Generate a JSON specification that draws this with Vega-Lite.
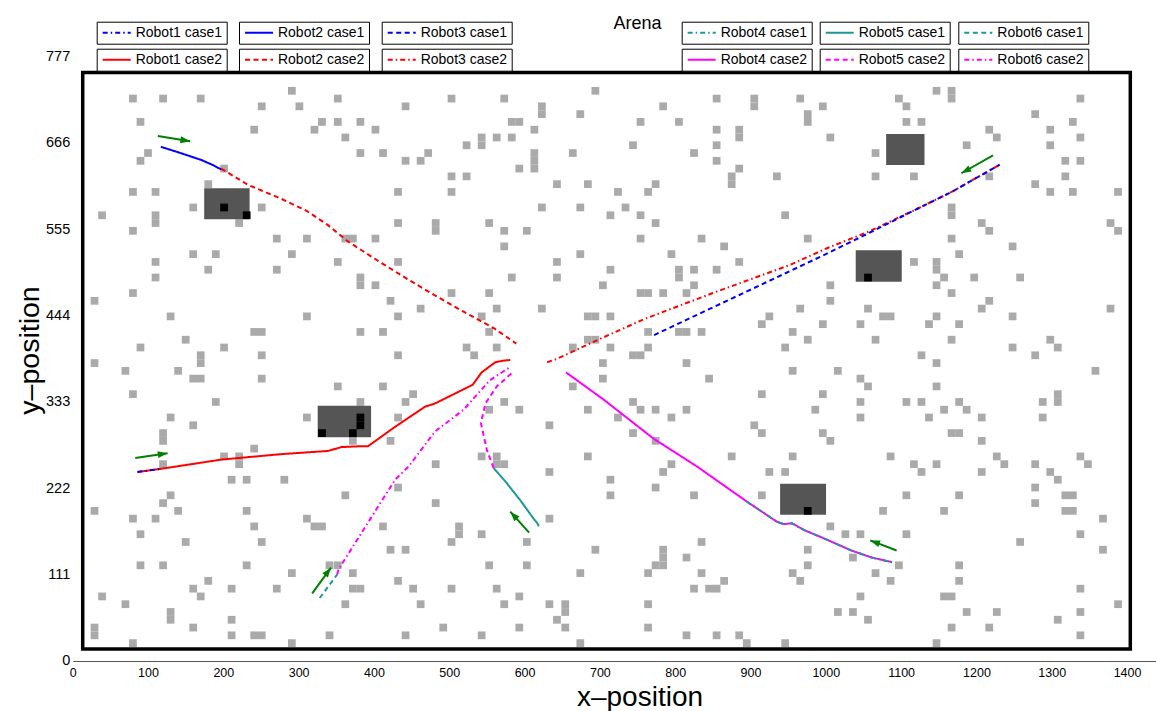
{
"$schema":"https://vega.github.io/schema/vega-lite/v6.json",
"width":1083,"height":620,
"autosize":{"type":"none"},
"padding":{"left":72.7,"top":41,"right":0,"bottom":50},
"background":"white",
"title":{"text":"Arena","fontSize":18,"font":"Liberation Sans","fontWeight":"normal","color":"black","anchor":"middle","frame":"group","dx":23.3,"offset":-25.5,"baseline":"alphabetic"},
"datasets":{
"arena":[{"x":13.3,"x2":1404.3,"y":15.4,"y2":756.5}],
"dark":[{"x":174.6,"x2":234.9,"y":567.8,"y2":607.6},{"x":325.3,"x2":396.2,"y":287.6,"y2":328.2},{"x":1080.1,"x2":1131,"y":637.6,"y2":677.5},{"x":1039.7,"x2":1100.8,"y":487.6,"y2":528},{"x":939.3,"x2":1000.3,"y":188,"y2":228}],
"black":[{"x":201,"y":583},{"x":231,"y":573},{"x":331,"y":293},{"x":372,"y":293},{"x":382,"y":313},{"x":382,"y":303},{"x":1056,"y":493},{"x":976,"y":193}],
"cells":[
{"x":291,"y":733},{"x":80,"y":723},{"x":120,"y":723},{"x":170,"y":723},{"x":352,"y":723},{"x":251,"y":713},{"x":301,"y":713},{"x":442,"y":713},{"x":90,"y":693},{"x":331,"y":693},{"x":352,"y":693},{"x":382,"y":693},{"x":241,"y":683},{"x":321,"y":683},{"x":402,"y":683},{"x":362,"y":673},{"x":100,"y":653},{"x":382,"y":653},{"x":412,"y":653},{"x":472,"y":653},{"x":90,"y":643},{"x":442,"y":643},{"x":462,"y":643},{"x":201,"y":633},{"x":180,"y":613},{"x":80,"y":603},{"x":110,"y":603},{"x":432,"y":603},{"x":160,"y":583},{"x":251,"y":583},{"x":39,"y":573},{"x":110,"y":573},{"x":110,"y":563},{"x":221,"y":563},{"x":432,"y":563},{"x":80,"y":553},{"x":271,"y":543},{"x":311,"y":543},{"x":362,"y":543},{"x":372,"y":543},{"x":402,"y":543},{"x":160,"y":523},{"x":190,"y":523},{"x":291,"y":523},{"x":110,"y":513},{"x":352,"y":513},{"x":432,"y":513},{"x":180,"y":503},{"x":271,"y":503},{"x":110,"y":493},{"x":382,"y":493},{"x":382,"y":483},{"x":402,"y":483},{"x":80,"y":473},{"x":29,"y":463},{"x":422,"y":463},{"x":462,"y":453},{"x":130,"y":443},{"x":311,"y":443},{"x":432,"y":443},{"x":241,"y":423},{"x":251,"y":423},{"x":382,"y":423},{"x":412,"y":423},{"x":150,"y":413},{"x":90,"y":403},{"x":201,"y":403},{"x":170,"y":393},{"x":251,"y":393},{"x":432,"y":393},{"x":29,"y":383},{"x":170,"y":383},
{"x":70,"y":373},{"x":140,"y":373},{"x":160,"y":363},{"x":170,"y":363},{"x":251,"y":363},{"x":352,"y":353},{"x":412,"y":353},{"x":80,"y":343},{"x":452,"y":343},{"x":190,"y":333},{"x":382,"y":333},{"x":442,"y":333},{"x":130,"y":313},{"x":311,"y":313},{"x":432,"y":313},{"x":160,"y":303},{"x":120,"y":293},{"x":120,"y":283},{"x":422,"y":283},{"x":372,"y":283},{"x":241,"y":273},{"x":201,"y":263},{"x":221,"y":263},{"x":221,"y":253},{"x":120,"y":253},{"x":482,"y":253},{"x":211,"y":233},{"x":231,"y":233},{"x":281,"y":233},{"x":432,"y":223},{"x":130,"y":213},{"x":362,"y":213},{"x":120,"y":203},{"x":482,"y":203},{"x":29,"y":193},{"x":140,"y":193},{"x":231,"y":193},{"x":80,"y":183},{"x":110,"y":183},{"x":311,"y":183},{"x":241,"y":173},{"x":321,"y":173},{"x":331,"y":173},{"x":412,"y":173},{"x":90,"y":163},{"x":150,"y":153},{"x":251,"y":153},{"x":422,"y":143},{"x":442,"y":143},{"x":90,"y":123},{"x":120,"y":123},{"x":231,"y":123},{"x":341,"y":123},{"x":352,"y":123},{"x":291,"y":113},{"x":372,"y":113},{"x":180,"y":103},{"x":432,"y":103},{"x":160,"y":93},{"x":211,"y":93},{"x":271,"y":93},{"x":372,"y":93},{"x":382,"y":93},{"x":452,"y":93},{"x":39,"y":83},{"x":170,"y":83},{"x":70,"y":73},{"x":362,"y":73},{"x":462,"y":73},{"x":130,"y":63},{"x":130,"y":53},{"x":211,"y":53},{"x":160,"y":43},{"x":29,"y":43},{"x":29,"y":33},{"x":211,"y":33},{"x":241,"y":33},{"x":251,"y":33},{"x":341,"y":33},{"x":442,"y":33},{"x":80,"y":23},{"x":291,"y":23},
{"x":694,"y":733},{"x":503,"y":723},{"x":573,"y":723},{"x":855,"y":723},{"x":905,"y":723},{"x":905,"y":713},{"x":784,"y":713},{"x":623,"y":713},{"x":623,"y":703},{"x":674,"y":703},{"x":583,"y":693},{"x":593,"y":693},{"x":754,"y":693},{"x":805,"y":693},{"x":613,"y":683},{"x":855,"y":683},{"x":885,"y":683},{"x":885,"y":673},{"x":563,"y":673},{"x":583,"y":673},{"x":543,"y":673},{"x":543,"y":663},{"x":523,"y":663},{"x":744,"y":663},{"x":855,"y":663},{"x":664,"y":653},{"x":825,"y":653},{"x":613,"y":653},{"x":613,"y":643},{"x":613,"y":633},{"x":855,"y":643},{"x":593,"y":633},{"x":885,"y":633},{"x":503,"y":623},{"x":523,"y":623},{"x":935,"y":623},{"x":875,"y":623},{"x":875,"y":613},{"x":643,"y":613},{"x":684,"y":613},{"x":774,"y":613},{"x":503,"y":603},{"x":724,"y":603},{"x":764,"y":603},{"x":623,"y":583},{"x":674,"y":583},{"x":734,"y":583},{"x":714,"y":573},{"x":754,"y":573},{"x":946,"y":573},{"x":553,"y":563},{"x":774,"y":563},{"x":482,"y":563},{"x":482,"y":553},{"x":573,"y":553},{"x":603,"y":553},{"x":754,"y":543},{"x":835,"y":543},{"x":573,"y":533},{"x":865,"y":533},{"x":674,"y":523},{"x":795,"y":523},{"x":643,"y":513},{"x":885,"y":513},{"x":714,"y":503},{"x":825,"y":503},{"x":855,"y":503},{"x":805,"y":503},{"x":805,"y":493},{"x":583,"y":493},{"x":643,"y":493},{"x":704,"y":483},{"x":825,"y":483},{"x":503,"y":473},{"x":553,"y":473},{"x":754,"y":473},{"x":764,"y":473},{"x":784,"y":473},{"x":815,"y":473},{"x":563,"y":453},{"x":623,"y":453},{"x":543,"y":443},{"x":684,"y":443},{"x":694,"y":443},{"x":714,"y":443},{"x":925,"y":443},{"x":915,"y":433},{"x":553,"y":423},{"x":764,"y":423},{"x":805,"y":423},{"x":815,"y":423},{"x":835,"y":423},{"x":956,"y":423},{"x":684,"y":413},{"x":694,"y":413},{"x":523,"y":403},{"x":563,"y":403},{"x":664,"y":403},{"x":714,"y":403},{"x":764,"y":403},{"x":946,"y":403},{"x":533,"y":393},{"x":744,"y":393},{"x":754,"y":393},{"x":704,"y":383},{"x":815,"y":383},
{"x":1147,"y":733},{"x":1167,"y":733},{"x":1167,"y":723},{"x":966,"y":723},{"x":1097,"y":723},{"x":1338,"y":723},{"x":996,"y":713},{"x":1107,"y":713},{"x":976,"y":703},{"x":976,"y":693},{"x":1278,"y":703},{"x":1107,"y":693},{"x":1127,"y":693},{"x":1328,"y":693},{"x":1217,"y":683},{"x":1298,"y":683},{"x":1006,"y":673},{"x":1227,"y":673},{"x":1338,"y":673},{"x":1187,"y":663},{"x":1298,"y":663},{"x":1066,"y":653},{"x":1318,"y":643},{"x":1338,"y":643},{"x":1066,"y":623},{"x":1117,"y":623},{"x":1217,"y":623},{"x":1318,"y":623},{"x":1278,"y":613},{"x":1298,"y":603},{"x":1328,"y":603},{"x":1388,"y":603},{"x":1167,"y":583},{"x":1167,"y":573},{"x":1207,"y":563},{"x":1378,"y":563},{"x":1217,"y":553},{"x":1388,"y":553},{"x":976,"y":543},{"x":1167,"y":543},{"x":1248,"y":533},{"x":1177,"y":523},{"x":1117,"y":513},{"x":1147,"y":513},{"x":1147,"y":503},{"x":1157,"y":493},{"x":1197,"y":493},{"x":1258,"y":493},{"x":1006,"y":483},{"x":1147,"y":483},{"x":1167,"y":473},{"x":1006,"y":463},{"x":1217,"y":463},{"x":966,"y":453},{"x":1056,"y":453},{"x":1207,"y":453},{"x":1378,"y":453},{"x":1076,"y":443},{"x":1086,"y":443},{"x":1147,"y":443},{"x":1248,"y":443},{"x":996,"y":433},{"x":1046,"y":433},{"x":1137,"y":433},{"x":1177,"y":433},{"x":976,"y":413},{"x":1066,"y":413},{"x":1167,"y":413},{"x":1298,"y":413},{"x":1248,"y":403},{"x":1308,"y":403},{"x":1127,"y":393},{"x":1278,"y":393},{"x":1147,"y":383},
{"x":956,"y":373},{"x":704,"y":363},{"x":845,"y":363},{"x":664,"y":353},{"x":915,"y":343},{"x":573,"y":333},{"x":744,"y":333},{"x":553,"y":323},{"x":593,"y":323},{"x":684,"y":323},{"x":754,"y":323},{"x":774,"y":323},{"x":815,"y":323},{"x":724,"y":313},{"x":795,"y":313},{"x":633,"y":303},{"x":905,"y":303},{"x":744,"y":293},{"x":915,"y":293},{"x":774,"y":283},{"x":543,"y":263},{"x":684,"y":263},{"x":875,"y":263},{"x":956,"y":263},{"x":563,"y":263},{"x":563,"y":253},{"x":573,"y":253},{"x":795,"y":253},{"x":633,"y":243},{"x":784,"y":243},{"x":925,"y":243},{"x":946,"y":243},{"x":714,"y":233},{"x":774,"y":223},{"x":714,"y":213},{"x":825,"y":213},{"x":915,"y":213},{"x":633,"y":183},{"x":513,"y":173},{"x":513,"y":163},{"x":543,"y":163},{"x":503,"y":153},{"x":603,"y":153},{"x":835,"y":153},{"x":694,"y":143},{"x":784,"y":143},{"x":784,"y":133},{"x":774,"y":123},{"x":784,"y":123},{"x":815,"y":133},{"x":553,"y":123},{"x":603,"y":123},{"x":674,"y":113},{"x":764,"y":113},{"x":835,"y":113},{"x":956,"y":113},{"x":865,"y":103},{"x":503,"y":93},{"x":563,"y":93},{"x":825,"y":93},{"x":845,"y":93},{"x":855,"y":93},{"x":593,"y":83},{"x":573,"y":73},{"x":633,"y":73},{"x":764,"y":73},{"x":654,"y":73},{"x":654,"y":63},{"x":643,"y":53},{"x":492,"y":43},{"x":593,"y":43},{"x":654,"y":43},{"x":764,"y":43},{"x":543,"y":33},{"x":815,"y":33},{"x":855,"y":33},{"x":885,"y":33},{"x":674,"y":23},{"x":895,"y":23},{"x":946,"y":23},
{"x":1016,"y":373},{"x":1358,"y":373},{"x":1046,"y":363},{"x":1056,"y":353},{"x":1147,"y":353},{"x":996,"y":343},{"x":1308,"y":343},{"x":1308,"y":333},{"x":1046,"y":333},{"x":1107,"y":333},{"x":1127,"y":333},{"x":1177,"y":333},{"x":1288,"y":333},{"x":986,"y":323},{"x":1157,"y":323},{"x":1187,"y":323},{"x":1046,"y":313},{"x":1137,"y":313},{"x":1207,"y":313},{"x":1288,"y":313},{"x":996,"y":293},{"x":1167,"y":293},{"x":1177,"y":293},{"x":1006,"y":283},{"x":1207,"y":283},{"x":1086,"y":263},{"x":1227,"y":263},{"x":1338,"y":263},{"x":1117,"y":253},{"x":1147,"y":253},{"x":1237,"y":253},{"x":1278,"y":253},{"x":1348,"y":253},{"x":1127,"y":243},{"x":1207,"y":243},{"x":1298,"y":243},{"x":1308,"y":233},{"x":1278,"y":223},{"x":1107,"y":213},{"x":1177,"y":213},{"x":1318,"y":213},{"x":1328,"y":213},{"x":1278,"y":203},{"x":1076,"y":193},{"x":1157,"y":193},{"x":1318,"y":193},{"x":1328,"y":193},{"x":1368,"y":183},{"x":1006,"y":173},{"x":1026,"y":163},{"x":1046,"y":163},{"x":1107,"y":163},{"x":1338,"y":163},{"x":1258,"y":153},{"x":976,"y":143},{"x":1368,"y":143},{"x":1036,"y":133},{"x":976,"y":123},{"x":1097,"y":123},{"x":1177,"y":123},{"x":1066,"y":113},{"x":966,"y":103},{"x":1086,"y":103},{"x":1177,"y":103},{"x":1338,"y":93},{"x":1046,"y":83},{"x":1157,"y":83},{"x":1167,"y":83},{"x":1388,"y":73},{"x":1016,"y":63},{"x":1036,"y":63},{"x":1187,"y":63},{"x":1227,"y":63},{"x":1338,"y":63},{"x":1056,"y":53},{"x":1308,"y":53},{"x":1167,"y":43},{"x":1217,"y":43},{"x":1338,"y":33},{"x":1147,"y":23}
],
"paths":[
{"s":"Robot1 case1","i":0,"x":86,"y":243},{"s":"Robot1 case1","i":1,"x":101,"y":245},{"s":"Robot1 case1","i":2,"x":117,"y":247},
{"s":"Robot1 case2","i":0,"x":86,"y":243},{"s":"Robot1 case2","i":1,"x":117,"y":247},{"s":"Robot1 case2","i":2,"x":198,"y":259},{"s":"Robot1 case2","i":3,"x":278,"y":266},{"s":"Robot1 case2","i":4,"x":339,"y":270},{"s":"Robot1 case2","i":5,"x":357,"y":275},{"s":"Robot1 case2","i":6,"x":380,"y":276},{"s":"Robot1 case2","i":7,"x":392,"y":276},{"s":"Robot1 case2","i":8,"x":428,"y":301},{"s":"Robot1 case2","i":9,"x":468,"y":327},{"s":"Robot1 case2","i":10,"x":481,"y":331},{"s":"Robot1 case2","i":11,"x":531,"y":355},{"s":"Robot1 case2","i":12,"x":543,"y":371},{"s":"Robot1 case2","i":13,"x":561,"y":384},{"s":"Robot1 case2","i":14,"x":571,"y":386},{"s":"Robot1 case2","i":15,"x":581,"y":387},
{"s":"Robot2 case1","i":0,"x":117,"y":661},{"s":"Robot2 case1","i":1,"x":140,"y":654},{"s":"Robot2 case1","i":2,"x":171,"y":644},{"s":"Robot2 case1","i":3,"x":185,"y":638},{"s":"Robot2 case1","i":4,"x":197,"y":632},
{"s":"Robot2 case2","i":0,"x":197,"y":633},{"s":"Robot2 case2","i":1,"x":233,"y":612},{"s":"Robot2 case2","i":2,"x":275,"y":595},{"s":"Robot2 case2","i":3,"x":310,"y":579},{"s":"Robot2 case2","i":4,"x":338,"y":561},{"s":"Robot2 case2","i":5,"x":366,"y":539},{"s":"Robot2 case2","i":6,"x":406,"y":514},{"s":"Robot2 case2","i":7,"x":446,"y":490},{"s":"Robot2 case2","i":8,"x":481,"y":470},{"s":"Robot2 case2","i":9,"x":519,"y":449},{"s":"Robot2 case2","i":10,"x":559,"y":428},{"s":"Robot2 case2","i":11,"x":589,"y":408},
{"s":"Robot3 case1","i":0,"x":772,"y":419},{"s":"Robot3 case1","i":1,"x":952,"y":501},{"s":"Robot3 case1","i":2,"x":1000,"y":523},{"s":"Robot3 case1","i":3,"x":1057,"y":550},{"s":"Robot3 case1","i":4,"x":1123,"y":582},{"s":"Robot3 case1","i":5,"x":1167,"y":603},{"s":"Robot3 case1","i":6,"x":1231,"y":638},
{"s":"Robot3 case2","i":0,"x":630,"y":384},{"s":"Robot3 case2","i":1,"x":642,"y":388},{"s":"Robot3 case2","i":2,"x":700,"y":414},{"s":"Robot3 case2","i":3,"x":760,"y":440},{"s":"Robot3 case2","i":4,"x":850,"y":473},{"s":"Robot3 case2","i":5,"x":952,"y":509},{"s":"Robot3 case2","i":6,"x":1000,"y":530},{"s":"Robot3 case2","i":7,"x":1057,"y":552},{"s":"Robot3 case2","i":8,"x":1123,"y":582},{"s":"Robot3 case2","i":9,"x":1167,"y":603},{"s":"Robot3 case2","i":10,"x":1231,"y":638},
{"s":"Robot4 case1","i":0,"x":895,"y":205},{"s":"Robot4 case1","i":1,"x":935,"y":179},{"s":"Robot4 case1","i":2,"x":944,"y":176},{"s":"Robot4 case1","i":3,"x":955,"y":177},{"s":"Robot4 case1","i":4,"x":972,"y":168},{"s":"Robot4 case1","i":5,"x":999,"y":157},{"s":"Robot4 case1","i":6,"x":1034,"y":142},{"s":"Robot4 case1","i":7,"x":1061,"y":133},{"s":"Robot4 case1","i":8,"x":1088,"y":127},
{"s":"Robot4 case2","i":0,"x":655,"y":371},{"s":"Robot4 case2","i":1,"x":705,"y":336},{"s":"Robot4 case2","i":2,"x":771,"y":286},{"s":"Robot4 case2","i":3,"x":829,"y":250},{"s":"Robot4 case2","i":4,"x":895,"y":205},{"s":"Robot4 case2","i":5,"x":935,"y":179},{"s":"Robot4 case2","i":6,"x":944,"y":176},{"s":"Robot4 case2","i":7,"x":955,"y":177},{"s":"Robot4 case2","i":8,"x":972,"y":168},{"s":"Robot4 case2","i":9,"x":999,"y":157},{"s":"Robot4 case2","i":10,"x":1034,"y":142},{"s":"Robot4 case2","i":11,"x":1061,"y":133},{"s":"Robot4 case2","i":12,"x":1088,"y":127},
{"s":"Robot5 case1","i":0,"x":559,"y":248},{"s":"Robot5 case1","i":1,"x":576,"y":229},{"s":"Robot5 case1","i":2,"x":594,"y":207},{"s":"Robot5 case1","i":3,"x":612,"y":183},{"s":"Robot5 case1","i":4,"x":617,"y":177},{"s":"Robot5 case1","i":5,"x":619,"y":173},
{"s":"Robot5 case2","i":0,"x":559,"y":248},{"s":"Robot5 case2","i":1,"x":550,"y":271},{"s":"Robot5 case2","i":2,"x":542,"y":306},{"s":"Robot5 case2","i":3,"x":548,"y":331},{"s":"Robot5 case2","i":4,"x":563,"y":353},{"s":"Robot5 case2","i":5,"x":583,"y":370},
{"s":"Robot6 case1","i":0,"x":328,"y":81},{"s":"Robot6 case1","i":1,"x":351,"y":111},
{"s":"Robot6 case2","i":0,"x":351,"y":111},{"s":"Robot6 case2","i":1,"x":353,"y":118},{"s":"Robot6 case2","i":2,"x":428,"y":233},{"s":"Robot6 case2","i":3,"x":446,"y":250},{"s":"Robot6 case2","i":4,"x":481,"y":295},{"s":"Robot6 case2","i":5,"x":519,"y":323},{"s":"Robot6 case2","i":6,"x":554,"y":361},{"s":"Robot6 case2","i":7,"x":581,"y":378}
],
"arrows":[{"x":156,"y":668,"x2":113,"y2":675},{"x":126,"y":267,"x2":83,"y2":261},{"x":343,"y":120,"x2":318,"y2":87},{"x":581,"y":192,"x2":606,"y2":165},{"x":1059,"y":155,"x2":1094,"y2":142},{"x":1180,"y":627,"x2":1222,"y2":650}]
},
"encoding":{
"x":{"field":"x","type":"quantitative","scale":{"domain":[0,1438],"nice":false,"zero":false},
"axis":{"values":[0,100,200,300,400,500,600,700,800,900,1000,1100,1200,1300,1400],"format":"d","grid":false,"domain":true,"domainColor":"#555555","domainWidth":1,"ticks":false,"tickSize":0,"labelPadding":6,"labelFontSize":12.5,"labelFont":"Liberation Sans","labelColor":"black","labelFlush":false,"labelOverlap":false,"title":"x–position","titleFontSize":28,"titleFont":"Liberation Sans","titleFontWeight":"normal","titleColor":"black","titleX":566.8,"titleY":44.5,"titleAlign":"center","titleBaseline":"alphabetic","titleAngle":0}},
"y":{"field":"y","type":"quantitative","scale":{"domain":[0,797],"nice":false,"zero":false},
"axis":{"values":[0,111,222,333,444,555,666,777],"format":"d","grid":false,"domain":false,"ticks":false,"tickSize":0,"labelPadding":3,"labelFontSize":14.5,"labelFont":"Liberation Sans","labelColor":"black","labelFlush":false,"labelOverlap":false,"title":"y–position","titleFontSize":28.5,"titleFont":"Liberation Sans","titleFontWeight":"normal","titleColor":"black","titleAngle":270,"titleX":-33.7,"titleY":309,"titleAlign":"center","titleBaseline":"alphabetic"}}
},
"layer":[
{"data":{"name":"cells"},"mark":{"type":"point","shape":"square","filled":true,"size":60,"color":"#aaaaaa","opacity":1,"strokeWidth":0}},
{"data":{"name":"dark"},"mark":{"type":"rect","color":"#555555","opacity":1},"encoding":{"x2":{"field":"x2"},"y2":{"field":"y2"}}},
{"data":{"name":"black"},"mark":{"type":"point","shape":"square","filled":true,"size":60,"color":"#000000","opacity":1,"strokeWidth":0}},
{"data":{"name":"arena"},"mark":{"type":"rect","fill":null,"fillOpacity":0,"stroke":"black","strokeWidth":3.5},"encoding":{"x2":{"field":"x2"},"y2":{"field":"y2"}}},
{"data":{"name":"paths"},"transform":[{"filter":"datum.s==='Robot1 case2'"}],"mark":{"type":"line","strokeWidth":2},"encoding":{"order":{"field":"i","type":"quantitative"},"color":{"field":"s","type":"nominal","scale":{"range":["#ff0000"]},"legend":{"title":null,"legendX":24,"legendY":7.7,"symbolType":"M-2.8,0H2.8"}},"strokeDash":{"field":"s","type":"nominal","scale":{"range":[[1,0]]},"legend":{"title":null,"legendX":24,"legendY":7.7,"symbolType":"M-2.8,0H2.8"}}}},
{"data":{"name":"paths"},"transform":[{"filter":"datum.s==='Robot2 case2'"}],"mark":{"type":"line","strokeWidth":2},"encoding":{"order":{"field":"i","type":"quantitative"},"color":{"field":"s","type":"nominal","scale":{"range":["#ff0000"]},"legend":{"title":null,"legendX":166.3,"legendY":7.7,"symbolType":"M-2.8,0H2.8"}},"strokeDash":{"field":"s","type":"nominal","scale":{"range":[[5,3.5]]},"legend":{"title":null,"legendX":166.3,"legendY":7.7,"symbolType":"M-2.8,0H2.8"}}}},
{"data":{"name":"paths"},"transform":[{"filter":"datum.s==='Robot3 case2'"}],"mark":{"type":"line","strokeWidth":2},"encoding":{"order":{"field":"i","type":"quantitative"},"color":{"field":"s","type":"nominal","scale":{"range":["#ff0000"]},"legend":{"title":null,"legendX":309,"legendY":7.7,"symbolType":"M-2.8,0H2.8"}},"strokeDash":{"field":"s","type":"nominal","scale":{"range":[[5,3,1.5,3]]},"legend":{"title":null,"legendX":309,"legendY":7.7,"symbolType":"M-2.8,0H2.8"}}}},
{"data":{"name":"paths"},"transform":[{"filter":"datum.s==='Robot4 case2'"}],"mark":{"type":"line","strokeWidth":2},"encoding":{"order":{"field":"i","type":"quantitative"},"color":{"field":"s","type":"nominal","scale":{"range":["#ff00ff"]},"legend":{"title":null,"legendX":609,"legendY":7.7,"symbolType":"M-2.8,0H2.8"}},"strokeDash":{"field":"s","type":"nominal","scale":{"range":[[1,0]]},"legend":{"title":null,"legendX":609,"legendY":7.7,"symbolType":"M-2.8,0H2.8"}}}},
{"data":{"name":"paths"},"transform":[{"filter":"datum.s==='Robot5 case2'"}],"mark":{"type":"line","strokeWidth":2},"encoding":{"order":{"field":"i","type":"quantitative"},"color":{"field":"s","type":"nominal","scale":{"range":["#ff00ff"]},"legend":{"title":null,"legendX":747,"legendY":7.7,"symbolType":"M-2.8,0H2.8"}},"strokeDash":{"field":"s","type":"nominal","scale":{"range":[[5,3.5]]},"legend":{"title":null,"legendX":747,"legendY":7.7,"symbolType":"M-2.8,0H2.8"}}}},
{"data":{"name":"paths"},"transform":[{"filter":"datum.s==='Robot6 case2'"}],"mark":{"type":"line","strokeWidth":2},"encoding":{"order":{"field":"i","type":"quantitative"},"color":{"field":"s","type":"nominal","scale":{"range":["#ff00ff"]},"legend":{"title":null,"legendX":885.6,"legendY":7.7,"symbolType":"M-2.8,0H2.8"}},"strokeDash":{"field":"s","type":"nominal","scale":{"range":[[5,3,1.5,3]]},"legend":{"title":null,"legendX":885.6,"legendY":7.7,"symbolType":"M-2.8,0H2.8"}}}},
{"data":{"name":"paths"},"transform":[{"filter":"datum.s==='Robot1 case1'"}],"mark":{"type":"line","strokeWidth":2},"encoding":{"order":{"field":"i","type":"quantitative"},"color":{"field":"s","type":"nominal","scale":{"range":["#0000ff"]},"legend":{"title":null,"legendX":24,"legendY":-19.3,"symbolType":"M-2.8,0H2.8"}},"strokeDash":{"field":"s","type":"nominal","scale":{"range":[[5,3,1.5,3]]},"legend":{"title":null,"legendX":24,"legendY":-19.3,"symbolType":"M-2.8,0H2.8"}}}},
{"data":{"name":"paths"},"transform":[{"filter":"datum.s==='Robot2 case1'"}],"mark":{"type":"line","strokeWidth":2},"encoding":{"order":{"field":"i","type":"quantitative"},"color":{"field":"s","type":"nominal","scale":{"range":["#0000ff"]},"legend":{"title":null,"legendX":166.3,"legendY":-19.3,"symbolType":"M-2.8,0H2.8"}},"strokeDash":{"field":"s","type":"nominal","scale":{"range":[[1,0]]},"legend":{"title":null,"legendX":166.3,"legendY":-19.3,"symbolType":"M-2.8,0H2.8"}}}},
{"data":{"name":"paths"},"transform":[{"filter":"datum.s==='Robot3 case1'"}],"mark":{"type":"line","strokeWidth":2},"encoding":{"order":{"field":"i","type":"quantitative"},"color":{"field":"s","type":"nominal","scale":{"range":["#0000ff"]},"legend":{"title":null,"legendX":309,"legendY":-19.3,"symbolType":"M-2.8,0H2.8"}},"strokeDash":{"field":"s","type":"nominal","scale":{"range":[[5,3.5]]},"legend":{"title":null,"legendX":309,"legendY":-19.3,"symbolType":"M-2.8,0H2.8"}}}},
{"data":{"name":"paths"},"transform":[{"filter":"datum.s==='Robot4 case1'"}],"mark":{"type":"line","strokeWidth":2},"encoding":{"order":{"field":"i","type":"quantitative"},"color":{"field":"s","type":"nominal","scale":{"range":["#199999"]},"legend":{"title":null,"legendX":609,"legendY":-19.3,"symbolType":"M-2.8,0H2.8"}},"strokeDash":{"field":"s","type":"nominal","scale":{"range":[[5,3,1.5,3]]},"legend":{"title":null,"legendX":609,"legendY":-19.3,"symbolType":"M-2.8,0H2.8"}}}},
{"data":{"name":"paths"},"transform":[{"filter":"datum.s==='Robot5 case1'"}],"mark":{"type":"line","strokeWidth":2},"encoding":{"order":{"field":"i","type":"quantitative"},"color":{"field":"s","type":"nominal","scale":{"range":["#199999"]},"legend":{"title":null,"legendX":747,"legendY":-19.3,"symbolType":"M-2.8,0H2.8"}},"strokeDash":{"field":"s","type":"nominal","scale":{"range":[[1,0]]},"legend":{"title":null,"legendX":747,"legendY":-19.3,"symbolType":"M-2.8,0H2.8"}}}},
{"data":{"name":"paths"},"transform":[{"filter":"datum.s==='Robot6 case1'"}],"mark":{"type":"line","strokeWidth":2},"encoding":{"order":{"field":"i","type":"quantitative"},"color":{"field":"s","type":"nominal","scale":{"range":["#199999"]},"legend":{"title":null,"legendX":885.6,"legendY":-19.3,"symbolType":"M-2.8,0H2.8"}},"strokeDash":{"field":"s","type":"nominal","scale":{"range":[[5,3.5]]},"legend":{"title":null,"legendX":885.6,"legendY":-19.3,"symbolType":"M-2.8,0H2.8"}}}},
{"data":{"name":"arrows"},"mark":{"type":"rule","color":"#008000","strokeWidth":2},"encoding":{"x2":{"field":"x2"},"y2":{"field":"y2"}}},
{"data":{"name":"arrows"},"transform":[{"calculate":"atan2(datum.x-datum.x2, datum.y-datum.y2)*180/PI","as":"a"}],"mark":{"type":"point","shape":"M0,0L0.5,1.4L-0.5,1.4Z","filled":true,"size":196,"color":"#008000","opacity":1,"strokeWidth":0},"encoding":{"angle":{"field":"a","type":"quantitative","scale":null}}}
],
"resolve":{"scale":{"color":"independent","strokeDash":"independent"}},
"config":{"view":{"stroke":null},
"legend":{"orient":"none","strokeColor":"black","strokeWidth":1,"fillColor":"white","padding":4,"labelFont":"Liberation Sans","labelFontSize":14,"labelColor":"black","symbolSize":100,"symbolStrokeWidth":2,"symbolOffset":9,"labelOffset":12,"labelLimit":200}}
}
